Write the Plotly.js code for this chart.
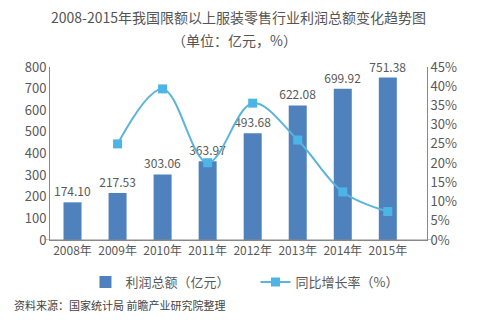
<!DOCTYPE html>
<html><head><meta charset="utf-8">
<script src="https://cdn.plot.ly/plotly-3.0.1.min.js"></script>
<style>html,body{margin:0;padding:0;background:#fff}#c{width:481px;height:328px}</style>
</head><body><div id="c"></div>
<script>
const years = ['2008年','2009年','2010年','2011年','2012年','2013年','2014年','2015年'];
const profit = [174.10, 217.53, 303.06, 363.97, 493.68, 622.08, 699.92, 751.38];
const growthYears = ['2009年','2010年','2011年','2012年','2013年','2014年','2015年'];
const growth = [25.0, 39.3, 20.1, 35.6, 26.0, 12.5, 7.4];
const F = '"Noto Sans CJK SC", "Noto Sans", sans-serif';
const grey = '#595959';
const data = [
  {type:'bar', x: years, y: profit, name:'利润总额（亿元）', width:0.4,
   marker:{color:'#4f81bd'}, text: profit.map(v=>v.toFixed(2)), textposition:'outside', constraintext:'none',
   textfont:{family:F,size:12,color:grey}, cliponaxis:false, yaxis:'y'},
  {type:'scatter', mode:'lines+markers', x: growthYears, y: growth, name:'同比增长率（%）',
   line:{shape:'spline', color:'#5ab4dc', width:2}, marker:{symbol:'square', size:9, color:'#4db5e6'},
   yaxis:'y2'}
];
const layout = {
  width:481, height:328, margin:{l:50, r:54, t:67, b:88},
  paper_bgcolor:'#fff', plot_bgcolor:'#fff', font:{family:F, color:grey, size:12},
  title:{text:'2008-2015年我国限额以上服装零售行业利润总额变化趋势图', x:0.5, xanchor:'center', xref:'paper',
    yref:'container', y:1-18/328, yanchor:'middle', font:{family:F, size:14, color:'#555'}},
  xaxis:{type:'category', range:[-0.5, 7.87], showline:true, linecolor:'#888', linewidth:1, ticks:'',
    tickfont:{family:F, size:12, color:grey}, fixedrange:true},
  yaxis:{range:[0,800], dtick:100, showgrid:false, zeroline:false, showline:true, linecolor:'#888', linewidth:1,
    ticks:'', tickfont:{family:F, size:13, color:grey}},
  yaxis2:{range:[0,45], dtick:5, overlaying:'y', side:'right', showgrid:false, zeroline:false, showline:true,
    linecolor:'#888', linewidth:1, ticksuffix:'%', ticks:'', tickfont:{family:F, size:13, color:grey}},
  showlegend:true,
  legend:{orientation:'h', x:0.545, xanchor:'center', y:(240-282)/173, yanchor:'middle', font:{family:F, size:13, color:grey},
    itemwidth:30, entrywidth:125, traceorder:'normal'},
  shapes:[
    {type:'line', xref:'paper', yref:'y', x0:-0.015, x1:1.015, y0:0, y1:0, line:{color:'#888', width:1}}
  ],
  annotations:[
    {text:'（单位：亿元，%）', xref:'paper', yref:'paper', x:0.49, xanchor:'center', y:(240-40)/173, yanchor:'middle',
     showarrow:false, font:{family:F, size:14, color:'#555'}},
    {text:'资料来源：国家统计局 前瞻产业研究院整理', xref:'paper', yref:'paper', x:-0.1, xanchor:'left', y:(240-305)/173, yanchor:'middle',
     showarrow:false, font:{family:F, size:11, color:'#444'}}
  ]
};
Plotly.newPlot('c', data, layout, {displayModeBar:false, staticPlot:true});
</script></body></html>
